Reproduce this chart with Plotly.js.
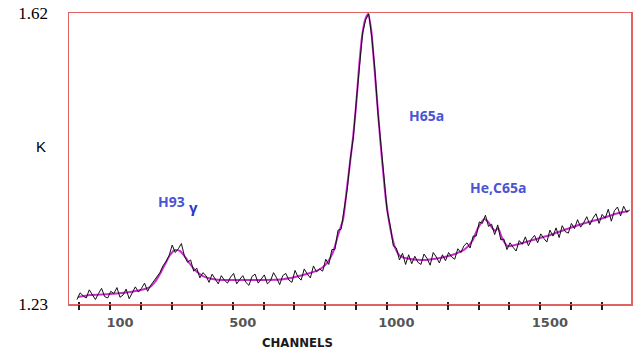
<!DOCTYPE html>
<html>
<head>
<meta charset="utf-8">
<script src="https://cdn.plot.ly/plotly-3.0.1.min.js"></script>
<style>html,body{margin:0;padding:0;background:#fff}#chart{width:638px;height:353px}</style>
</head>
<body>
<div id="chart"></div>
<script>
// Measured spectrum (antenna temperature K vs channel), sampled every 10 channels from -40
var chStart = -40, chStep = 10;
var spectrumK = [
1.236, 1.245, 1.241, 1.238, 1.249, 1.243, 1.236, 1.244, 1.251, 1.240,
1.238, 1.247, 1.244, 1.252, 1.239, 1.242, 1.250, 1.237, 1.246, 1.253,
1.246, 1.251, 1.258, 1.247, 1.255, 1.261, 1.266, 1.272, 1.281, 1.287,
1.295, 1.309, 1.299, 1.304, 1.311, 1.294, 1.286, 1.289, 1.274, 1.278,
1.265, 1.272, 1.268, 1.259, 1.270, 1.264, 1.257, 1.268, 1.262, 1.258,
1.266, 1.271, 1.257, 1.263, 1.268, 1.259, 1.255, 1.267, 1.270, 1.258,
1.263, 1.269, 1.257, 1.261, 1.272, 1.265, 1.256, 1.268, 1.271, 1.262,
1.259, 1.275, 1.266, 1.262, 1.277, 1.270, 1.265, 1.281, 1.273, 1.277,
1.274, 1.290, 1.283, 1.303, 1.303, 1.329, 1.330, 1.358, 1.384, 1.424,
1.454, 1.504, 1.553, 1.593, 1.611, 1.619, 1.588, 1.544, 1.486, 1.439,
1.396, 1.355, 1.335, 1.308, 1.305, 1.289, 1.298, 1.283, 1.296, 1.284,
1.294, 1.286, 1.283, 1.297, 1.291, 1.282, 1.299, 1.293, 1.285, 1.296,
1.288, 1.299, 1.293, 1.290, 1.304, 1.299, 1.308, 1.312, 1.305, 1.321,
1.321, 1.340, 1.338, 1.349, 1.334, 1.337, 1.323, 1.336, 1.316, 1.317,
1.303, 1.312, 1.306, 1.301, 1.315, 1.310, 1.320, 1.308, 1.317, 1.322,
1.312, 1.324, 1.318, 1.313, 1.329, 1.321, 1.332, 1.319, 1.335, 1.327,
1.325, 1.338, 1.331, 1.343, 1.333, 1.339, 1.347, 1.336, 1.345, 1.351,
1.338, 1.350, 1.345, 1.357, 1.341, 1.355, 1.360, 1.348, 1.361, 1.353, 1.356
];
var spectrumCh = spectrumK.map(function(_, i){ return chStart + i*chStep; });

// Fitted model (magenta)
var fitCh = [-37, 2, 67, 133, 181, 198, 214, 230, 247, 263, 279, 295, 312, 328, 344, 370, 400, 426, 491, 556, 621, 670, 719, 752, 774, 794, 810, 826, 839, 849, 859, 869, 879, 888, 898, 908, 918, 927, 937, 947, 957, 966, 980, 996, 1012, 1045, 1094, 1142, 1191, 1224, 1247, 1266, 1286, 1299, 1312, 1322, 1331, 1344, 1361, 1387, 1445, 1501, 1556, 1615, 1664, 1712, 1755];
var fitK = [1.2394, 1.2421, 1.2434, 1.2461, 1.2501, 1.2528, 1.2595, 1.2702, 1.2836, 1.2957, 1.3024, 1.3011, 1.2930, 1.2836, 1.2756, 1.2675, 1.2635, 1.2622, 1.2622, 1.2622, 1.2628, 1.2662, 1.2715, 1.2769, 1.2849, 1.2997, 1.3225, 1.3426, 1.3855, 1.4190, 1.4538, 1.4967, 1.5503, 1.5878, 1.6106, 1.6187, 1.5972, 1.5543, 1.5034, 1.4525, 1.4069, 1.3694, 1.3319, 1.3051, 1.2943, 1.2903, 1.2890, 1.2916, 1.2970, 1.3037, 1.3144, 1.3319, 1.3439, 1.3399, 1.3319, 1.3278, 1.3319, 1.3185, 1.3077, 1.3091, 1.3158, 1.3225, 1.3305, 1.3386, 1.3439, 1.3506, 1.3546];

var xLabelVals = [100, 500, 1000, 1500];
var xLabelText = ['100', '500', '1000', '1500'];
var yLabelVals = [1.23, 1.62];
var yLabelText = ['1.23', '1.62'];

var xRange = [-66, 1764];
var yRange = [1.23, 1.62];
var frameColor = '#e06262';
var labelBlue = '#4b53d6';

var traces = [
  {x: fitCh, y: fitK, type: 'scatter', mode: 'lines', line: {color: '#cc2ad0', width: 2, shape: 'spline', smoothing: 0.6}, hoverinfo: 'skip'},
  {x: spectrumCh, y: spectrumK, type: 'scatter', mode: 'lines', line: {color: '#111', width: 1}, hoverinfo: 'skip'},
  {x: [], y: [], xaxis: 'x2', yaxis: 'y', type: 'scatter', mode: 'lines', hoverinfo: 'skip'},
  {x: [], y: [], xaxis: 'x3', yaxis: 'y', type: 'scatter', mode: 'lines', hoverinfo: 'skip'}
];

var tickAxis = function(dir, len){
  return {overlaying: 'x', anchor: 'y', side: 'bottom', range: xRange, tickmode: 'linear', tick0: -32, dtick: 100,
    ticks: dir, ticklen: len, tickwidth: 2, tickcolor: '#222', showticklabels: false, showline: false,
    showgrid: false, zeroline: false, fixedrange: true};
};

var layout = {
  width: 638, height: 353,
  margin: {l: 69, r: 7, t: 13, b: 49},
  paper_bgcolor: '#fff', plot_bgcolor: '#fff',
  showlegend: false,
  xaxis: {range: xRange, tickmode: 'array', tickvals: xLabelVals, ticktext: xLabelText, ticks: '',
    ticklabelstandoff: 6,
    tickfont: {family: 'DejaVu Sans', size: 13, color: '#555', weight: 'bold'},
    showline: true, linecolor: frameColor, linewidth: 1.5, mirror: true,
    showgrid: false, zeroline: false},
  xaxis2: tickAxis('outside', 5),
  xaxis3: tickAxis('inside', 2),
  yaxis: {range: yRange, tickmode: 'array', tickvals: yLabelVals, ticktext: yLabelText, ticks: '',
    ticklabelstandoff: 16,
    tickfont: {family: 'Liberation Serif', size: 17, color: '#000'},
    showline: true, linecolor: frameColor, linewidth: 1.5, mirror: true,
    showgrid: false, zeroline: false},
  annotations: [
    {text: 'K', xref: 'paper', yref: 'paper', x: -0.050, y: 0.540, xanchor: 'center', yanchor: 'middle', showarrow: false,
      font: {family: 'Liberation Sans', size: 15, color: '#000'}},
    {text: 'CHANNELS', xref: 'paper', yref: 'paper', x: 0.406, y: -0.131, xanchor: 'center', yanchor: 'middle', showarrow: false,
      font: {family: 'DejaVu Sans Condensed, Liberation Sans Narrow, Liberation Sans', size: 13, color: '#1a1a1a', weight: 'bold'}},
    {text: 'H93', xref: 'paper', yref: 'paper', x: 0.183, y: 0.351, xanchor: 'center', yanchor: 'middle', showarrow: false,
      font: {family: 'Open Sans', size: 14, color: labelBlue, weight: 'bold'}},
    {text: 'γ', xref: 'paper', yref: 'paper', x: 0.221, y: 0.333, xanchor: 'center', yanchor: 'middle', showarrow: false,
      font: {family: 'Open Sans', size: 15, color: '#2a36cc', weight: 'bold'}},
    {text: 'H65a', xref: 'paper', yref: 'paper', x: 0.637, y: 0.649, xanchor: 'center', yanchor: 'middle', showarrow: false,
      font: {family: 'Open Sans', size: 14, color: labelBlue, weight: 'bold'}},
    {text: 'He,C65a', xref: 'paper', yref: 'paper', x: 0.763, y: 0.402, xanchor: 'center', yanchor: 'middle', showarrow: false,
      font: {family: 'Open Sans', size: 14, color: labelBlue, weight: 'bold'}}
  ]
};

Plotly.newPlot('chart', traces, layout, {staticPlot: true, displayModeBar: false});
</script>
</body>
</html>
